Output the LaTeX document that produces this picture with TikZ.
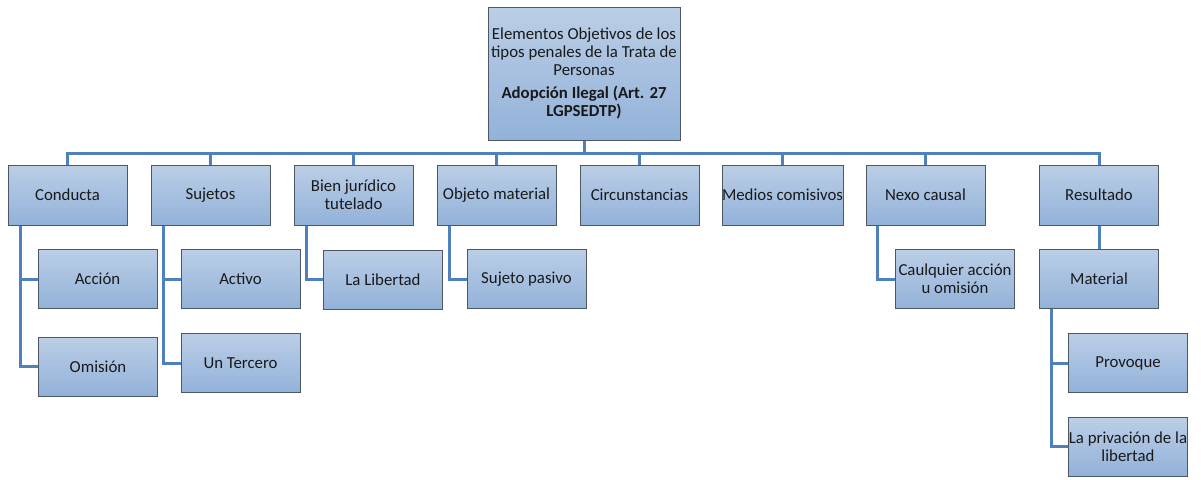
\documentclass[tikz,border=0pt]{standalone}
\usepackage{fontspec}
\setmainfont{Carlito}
\usetikzlibrary{backgrounds}
\definecolor{boxtop}{RGB}{187,206,230}
\definecolor{boxbot}{RGB}{146,178,217}
\definecolor{boxline}{RGB}{78,88,100}
\definecolor{conn}{RGB}{79,129,189}
\definecolor{txt}{RGB}{25,25,25}
\begin{document}
\begin{tikzpicture}[x=1pt,y=-1pt,
  box/.style={draw=boxline, line width=0.9pt, top color=boxtop, bottom color=boxbot,
    minimum width=119pt, minimum height=60pt, inner sep=0pt, align=center,
    text=txt, font=\fontsize{16.8}{18}\selectfont},
  kid/.style={box, minimum height=59pt},
  link/.style={draw=conn, line width=3pt}]
\useasboundingbox (0,0) rectangle (1201,479);
\coordinate (bus) at (0,153);
% top
\node[box, minimum width=192pt, minimum height=133pt] (top) at (584,73.5)
  {Elementos Objetivos de los\\tipos penales de la Trata de\\Personas\\[5pt]
   {\bfseries Adopción Ilegal (Art. 27}\\{\bfseries LGPSEDTP)}};
% level 1
\node[box] (cond) at (67.5,195) {Conducta};
\node[box] (suj) at (210.5,195) {Sujetos};
\node[box] (bien) at (353.5,195) {Bien jurídico\\tutelado};
\node[box] (obj) at (496.5,195) {Objeto material};
\node[box] (circ) at (639.5,195) {Circunstancias};
\node[box] (med) at (782.5,195) {Medios comisivos};
\node[box] (nexo) at (925.5,195) {Nexo causal};
\node[box] (res) at (1099,195) {Resultado};
% children
\node[kid] (acc) at (97.5,279) {Acción};
\node[kid] (omi) at (98,366.5) {Omisión};
\node[kid] (act) at (240.5,279) {Activo};
\node[kid] (ter) at (240.5,363) {Un Tercero};
\node[kid] (lib) at (383,279.5) {La Libertad};
\node[kid] (pas) at (526.5,279) {Sujeto pasivo};
\node[kid] (cual) at (955,279) {Caulquier acción\\u omisión};
\node[kid] (mat) at (1099,279) {Material};
\node[kid] (prov) at (1128,363) {Provoque};
\node[kid] (priv) at (1128,446.5) {La privación de la\\libertad};
% connectors
\begin{scope}[on background layer]
\draw[link] (top.south) -- (top.south |- bus);
\draw[link] (cond.north) -- (cond.north |- bus) -- (res.north |- bus) -- (res.north);
\foreach \n in {suj,bien,obj,circ,med,nexo}
  \draw[link] (\n.north) -- (\n.north |- bus);
\draw[link] ([xshift=13pt]cond.south west) |- (acc.west);
\draw[link] ([xshift=13pt]cond.south west) |- (omi.west);
\draw[link] ([xshift=13pt]suj.south west) |- (act.west);
\draw[link] ([xshift=13pt]suj.south west) |- (ter.west);
\draw[link] ([xshift=13pt]bien.south west) |- (lib.west);
\draw[link] ([xshift=13pt]obj.south west) |- (pas.west);
\draw[link] ([xshift=12pt]nexo.south west) |- (cual.west);
\draw[link] (res.south) -- (mat.north);
\draw[link] ([xshift=12pt]mat.south west) |- (prov.west);
\draw[link] ([xshift=12pt]mat.south west) |- (priv.west);
\end{scope}
\end{tikzpicture}
\end{document}
